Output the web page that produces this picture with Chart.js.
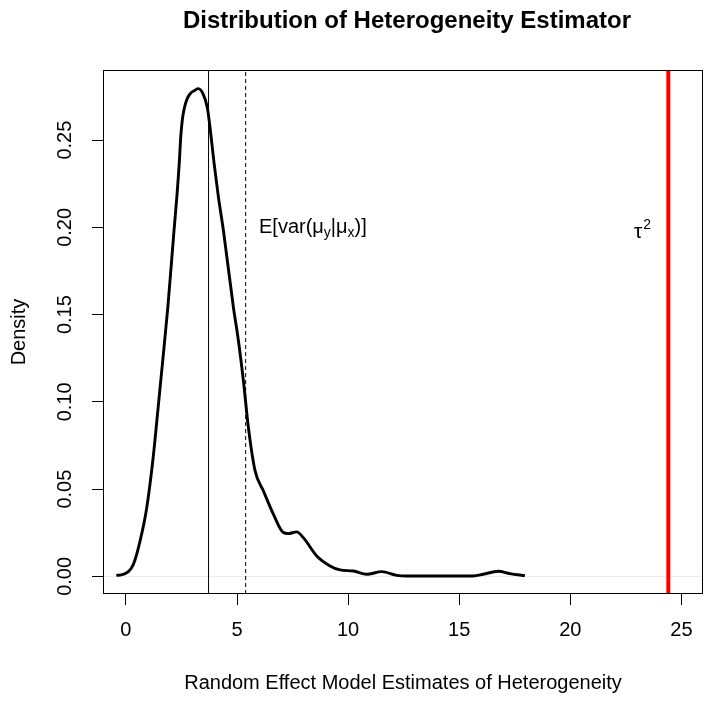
<!DOCTYPE html>
<html><head><meta charset="utf-8">
<script src="https://cdn.jsdelivr.net/npm/chart.js"></script>
<style>html,body{margin:0;padding:0;background:#fff}#wrap{width:714px;height:703px}</style>
</head><body><div id="wrap"><canvas id="c" width="714" height="703"></canvas></div>
<script>
// ---- data ----
const densityX = [-0.43, -0.11, 0.337, 0.639, 0.940, 1.228, 1.453, 1.673, 1.889, 2.168, 2.294, 2.402, 2.470, 2.54, 2.63, 2.74, 2.89, 3.10, 3.261, 3.486, 3.666, 3.788, 3.968, 4.161, 4.386, 4.836, 5.061, 5.286, 5.511, 5.812, 6.185, 6.635, 7.085, 7.310, 7.688, 7.985, 8.588, 9.186, 9.636, 10.234, 10.837, 11.511, 12.186, 12.636, 15.632, 16.082, 16.757, 17.283, 17.957];
const densityY = [0.0006, 0.0012, 0.0069, 0.0203, 0.0395, 0.0682, 0.0970, 0.1257, 0.1544, 0.1986, 0.2177, 0.2369, 0.2522, 0.2617, 0.2684, 0.2732, 0.2766, 0.2785, 0.2795, 0.2761, 0.2686, 0.2571, 0.2368, 0.2176, 0.1985, 0.1544, 0.1353, 0.1123, 0.0855, 0.0606, 0.0491, 0.0357, 0.0251, 0.0245, 0.0255, 0.0222, 0.0117, 0.0060, 0.0037, 0.0031, 0.0012, 0.0027, 0.0006, 0.0002, 0.0002, 0.0012, 0.0029, 0.0016, 0.0004];
const xTicks = [0, 5, 10, 15, 20, 25];
const yTicks = [0, 0.05, 0.10, 0.15, 0.20, 0.25];
const yTickLabels = ["0.00", "0.05", "0.10", "0.15", "0.20", "0.25"];
const medianValue = 3.72;      // solid vertical line
const expectedVar = 5.39;      // dashed vertical line
const tauSquared = 24.41;      // red vertical line
const xRange = [-1.03, 25.97];
const yRange = [-0.0101, 0.2902];
const titleText = "Distribution of Heterogeneity Estimator";
const xLabel = "Random Effect Model Estimates of Heterogeneity";
const yLabel = "Density";

const FONT = "'Liberation Sans', Arial, Helvetica, sans-serif";
const vline = v => [{x: v, y: yRange[0]}, {x: v, y: yRange[1]}];

const overlay = {
  id: 'overlay',
  afterDraw(chart) {
    const {ctx, chartArea: a, scales: {x, y}} = chart;
    ctx.save();
    // box
    ctx.strokeStyle = '#000'; ctx.lineWidth = 1;
    ctx.strokeRect(Math.round(a.left) + 0.5, Math.round(a.top) + 0.5, Math.round(a.right - a.left) - 1, Math.round(a.bottom - a.top) - 1);
    ctx.fillStyle = '#000';
    // title centred over the plot region
    ctx.font = "bold 24px " + FONT;
    ctx.textAlign = 'center'; ctx.textBaseline = 'middle';
    ctx.fillText(titleText, (a.left + a.right) / 2 + 4, 21);
    // y tick labels (rotated like R)
    ctx.font = "20px " + FONT;
    yTicks.forEach((v, i) => {
      ctx.save();
      ctx.translate(65, y.getPixelForValue(v));
      ctx.rotate(-Math.PI / 2);
      ctx.fillText(yTickLabels[i], 0, 0);
      ctx.restore();
    });
    // E[var(mu_y | mu_x)] annotation
    ctx.textAlign = 'left'; ctx.textBaseline = 'alphabetic';
    let px = x.getPixelForValue(5.99), py = y.getPixelForValue(0.1968);
    const parts = [["E[var(\u03bc", 0], ["y", 1], ["|\u03bc", 0], ["x", 1], [")]", 0]];
    parts.forEach(([t, sub]) => {
      ctx.font = (sub ? "14px " : "20px ") + FONT;
      ctx.fillText(t, px, py + (sub ? 4 : 0));
      px += ctx.measureText(t).width;
    });
    // tau^2 annotation
    px = x.getPixelForValue(22.86); py = y.getPixelForValue(0.1939);
    ctx.font = "21px " + FONT;
    ctx.fillText("\u03c4", px, py);
    px += ctx.measureText("\u03c4").width + 1;
    ctx.font = "14px " + FONT;
    ctx.fillText("2", px, py - 9);
    ctx.restore();
  }
};

new Chart(document.getElementById('c'), {
  type: 'scatter',
  data: {
    datasets: [
      {data: densityX.map((v, i) => ({x: v, y: densityY[i]})), showLine: true, borderColor: '#000', borderWidth: 2.9, pointRadius: 0, cubicInterpolationMode: 'monotone'},
      {data: vline(medianValue), showLine: true, borderColor: '#000', borderWidth: 1, pointRadius: 0},
      {data: vline(expectedVar), showLine: true, borderColor: '#000', borderWidth: 1, borderDash: [4, 3], pointRadius: 0},
      {data: vline(tauSquared), showLine: true, borderColor: '#ff0000', borderWidth: 4, pointRadius: 0},
      {data: [{x: xRange[0], y: 0}, {x: xRange[1], y: 0}], showLine: true, borderColor: '#ececec', borderWidth: 1, pointRadius: 0}
    ]
  },
  options: {
    responsive: false, devicePixelRatio: 1, animation: false,
    layout: {padding: {left: 0, right: 11, top: 70, bottom: 0}},
    plugins: {legend: {display: false}, tooltip: {enabled: false}, title: {display: false}},
    scales: {
      x: {
        type: 'linear', min: xRange[0], max: xRange[1],
        afterBuildTicks: s => { s.ticks = xTicks.map(v => ({value: v})); },
        afterFit: s => { s.height = 109; },
        grid: {drawOnChartArea: false, drawTicks: true, tickLength: 11, color: '#000'},
        border: {display: false},
        ticks: {color: '#000', font: {family: FONT, size: 20}, padding: 13, maxRotation: 0, callback: v => String(v)},
        title: {display: true, text: xLabel, color: '#000', font: {family: FONT, size: 20}, padding: {top: 0, bottom: 8}}
      },
      y: {
        type: 'linear', min: yRange[0], max: yRange[1],
        afterBuildTicks: s => { s.ticks = yTicks.map(v => ({value: v})); },
        afterFit: s => { s.width = 103; },
        grid: {drawOnChartArea: false, drawTicks: true, tickLength: 11, color: '#000'},
        border: {display: false},
        ticks: {display: false},
        title: {display: true, text: yLabel, color: '#000', font: {family: FONT, size: 20}, padding: {top: 7, bottom: 0}}
      }
    }
  },
  plugins: [overlay]
});
</script></body></html>
